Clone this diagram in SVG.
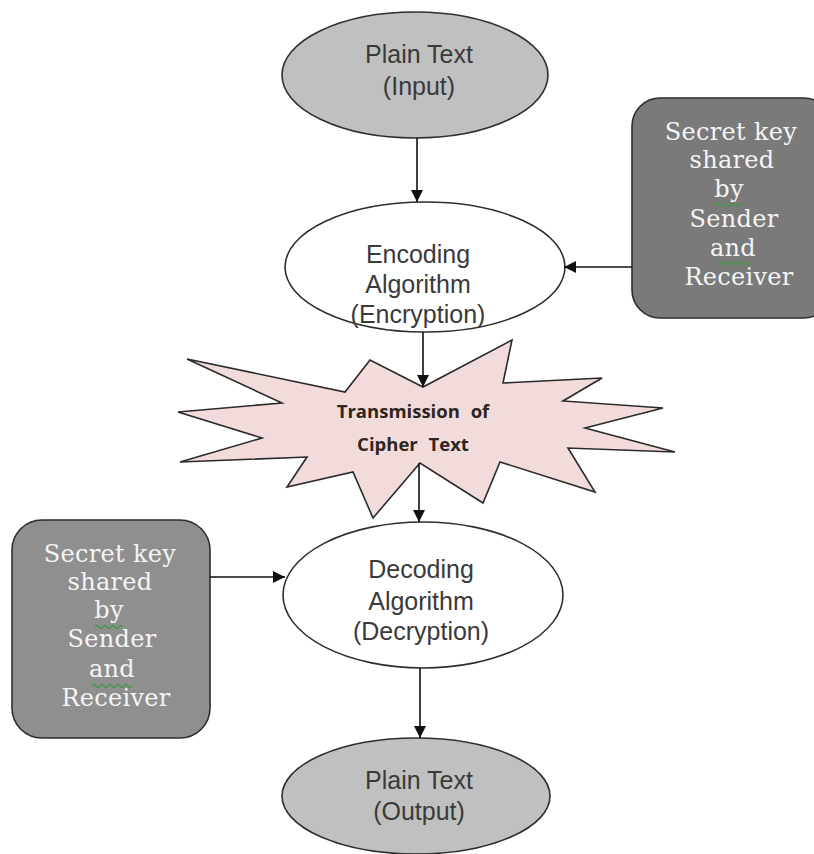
<svg xmlns="http://www.w3.org/2000/svg" width="814" height="854" viewBox="0 0 814 854">
  <style>
    .oval { stroke: #2e2e2e; stroke-width: 1.6; }
    .grey { fill: #c0c0c0; }
    .white { fill: #ffffff; }
    .key { stroke: #2e2e2e; stroke-width: 1.6; }
    .label { font-family: "Liberation Sans", Arial, sans-serif; font-size: 25px; fill: #3a3a3a; text-anchor: middle; }
    .keytext { font-family: "DejaVu Serif", "Liberation Serif", serif; font-size: 24px; letter-spacing: 0.3px; fill: #f4f4f4; text-anchor: middle; }
    .burst { fill: #f2dcdb; stroke: #2a2a2a; stroke-width: 1.6; stroke-linejoin: miter; }
    .btext { font-family: "Open Sans", "Noto Sans", sans-serif; font-size: 18.5px; font-weight: bold; fill: #2e2620; text-anchor: middle; word-spacing: 6px; }
    .edge { stroke: #111111; stroke-width: 1.6; fill: none; marker-end: url(#head); }
    .squiggle { stroke: #3f9a3f; stroke-width: 1.3; fill: none; }
  </style>
  <defs>
    <marker id="head" markerUnits="userSpaceOnUse" markerWidth="14" markerHeight="12" refX="12" refY="6" orient="auto">
      <path d="M0,0 L12,6 L0,12 Z" fill="#111111"/>
    </marker>
  </defs>

  <rect width="814" height="854" fill="#ffffff"/>

  <!-- starburst for the transmission stage -->
  <g id="transmission">
    <polygon class="burst" points="187,359 345,392 370,360 423,387 512,340 503,383 602,378 563,401 663,408 585,428 675,452 568,448 595,492 500,462 483,503 420,463 373,518 353,472 287,487 307,457 180,462 262,438 178,412 282,403"/>
    <text class="btext" x="413" y="418">Transmission of</text>
    <text class="btext" x="413" y="451">Cipher Text</text>
  </g>

  <g id="plain-input">
    <ellipse class="oval grey" cx="415" cy="75" rx="133" ry="63"/>
    <text class="label" x="419" y="63">Plain Text</text>
    <text class="label" x="419" y="95">(Input)</text>
  </g>

  <g id="encoding">
    <ellipse class="oval white" cx="425" cy="267" rx="140" ry="65"/>
    <text class="label" x="418" y="263">Encoding</text>
    <text class="label" x="418" y="293">Algorithm</text>
    <text class="label" x="418" y="323">(Encryption)</text>
  </g>

  <g id="decoding">
    <ellipse class="oval white" cx="423" cy="595" rx="140" ry="73"/>
    <text class="label" x="421" y="578">Decoding</text>
    <text class="label" x="421" y="610">Algorithm</text>
    <text class="label" x="421" y="640">(Decryption)</text>
  </g>

  <g id="plain-output">
    <ellipse class="oval grey" cx="416" cy="796" rx="134" ry="58"/>
    <text class="label" x="419" y="789">Plain Text</text>
    <text class="label" x="419" y="820">(Output)</text>
  </g>

  <g id="key-sender">
    <rect class="key" x="632" y="98" width="200" height="220" rx="28" fill="#7a7a7a"/>
    <text class="keytext" x="731" y="140">Secret key</text>
    <text class="keytext" x="732" y="168">shared</text>
    <text class="keytext" x="729" y="197">by</text>
    <text class="keytext" x="734" y="227">Sender</text>
    <text class="keytext" x="733" y="256">and</text>
    <text class="keytext" x="739" y="285">Receiver</text>
    <path class="squiggle" d="M715,205 q2,-3 4,0 t4,0 t4,0 t4,0 t4,0 t4,0 t4,0"/>
    <path class="squiggle" d="M717,263 q2,-3 4,0 t4,0 t4,0 t4,0 t4,0 t4,0 t4,0 t4,0"/>
  </g>

  <g id="key-receiver">
    <rect class="key" x="12" y="520" width="198" height="218" rx="30" fill="#8f8f8f"/>
    <text class="keytext" x="110" y="562">Secret key</text>
    <text class="keytext" x="110" y="590">shared</text>
    <text class="keytext" x="109" y="618">by</text>
    <text class="keytext" x="112" y="647">Sender</text>
    <text class="keytext" x="112" y="677">and</text>
    <text class="keytext" x="116" y="706">Receiver</text>
    <path class="squiggle" d="M95,627 q2,-3 4,0 t4,0 t4,0 t4,0 t4,0 t4,0 t4,0"/>
    <path class="squiggle" d="M92,686 q2,-3 4,0 t4,0 t4,0 t4,0 t4,0 t4,0 t4,0 t4,0 t4,0 t4,0"/>
  </g>

  <!-- connectors -->
  <g id="connectors">
    <line class="edge" x1="417" y1="138" x2="417" y2="202"/>
    <line class="edge" x1="632" y1="267" x2="564" y2="267"/>
    <line class="edge" x1="423" y1="332" x2="423" y2="387"/>
    <line class="edge" x1="419" y1="463" x2="419" y2="522"/>
    <line class="edge" x1="210" y1="577" x2="285" y2="577"/>
    <line class="edge" x1="420" y1="668" x2="420" y2="738"/>
  </g>
</svg>
